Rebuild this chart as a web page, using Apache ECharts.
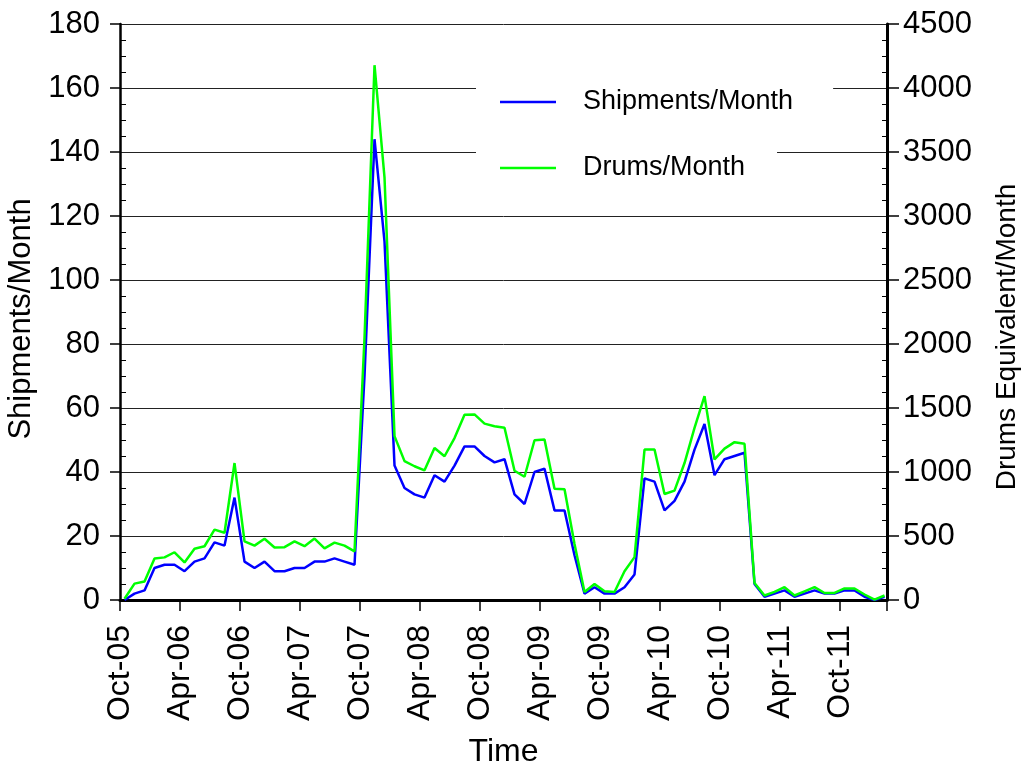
<!DOCTYPE html>
<html>
<head>
<meta charset="utf-8">
<script src="https://cdn.jsdelivr.net/npm/echarts@6/dist/echarts.min.js"></script>
<style>
html,body{margin:0;padding:0;background:#fff;}
#chart{width:1024px;height:764px;}
</style>
</head>
<body>
<div id="chart"></div>
<script>
// Monthly values starting Oct-05 (month index 0), sampled mid-month
const shipmentsPerMonth = [
  0, 2, 3, 10, 11, 11, 9, 12, 13, 18, 17, 32,
  12, 10, 12, 9, 9, 10, 10, 12, 12, 13, 12, 11,
  70, 144, 112, 42, 35, 33, 32, 39, 37, 42, 48, 48,
  45, 43, 44, 33, 30, 40, 41, 28, 28, 14, 2, 4,
  2, 2, 4, 8, 38, 37, 28, 31, 37, 47, 55, 39,
  44, 45, 46, 5, 1, 2, 3, 1, 2, 3, 2, 2,
  3, 3, 1, 0, 1
];
const drumsPerMonth = [
  10, 128, 145, 325, 333, 373, 293, 400, 420, 550, 525, 1070,
  458, 425, 478, 410, 413, 458, 420, 480, 403, 448, 425, 380,
  2050, 4178, 3300, 1280, 1085, 1045, 1013, 1188, 1123, 1265, 1448, 1450,
  1378, 1358, 1345, 1010, 963, 1248, 1253, 870, 865, 438, 63, 125,
  68, 63, 225, 335, 1175, 1175, 828, 855, 1070, 1345, 1593, 1098,
  1183, 1233, 1220, 133, 35, 63, 100, 35, 68, 100, 55, 55,
  90, 90, 43, 3, 35
];
const xTickLabels = ['Oct-05','Apr-06','Oct-06','Apr-07','Oct-07','Apr-08','Oct-08',
                     'Apr-09','Oct-09','Apr-10','Oct-10','Apr-11','Oct-11'];
const seriesNames = ['Shipments/Month', 'Drums/Month'];
const midMonth = 14 / 31;      // data dated the 15th of each month
const monthsShown = 76.7;      // Oct-05 .. late Feb-12

const FONT = '"Liberation Sans", Arial, Helvetica, sans-serif';

const chart = echarts.init(document.getElementById('chart'), null, {renderer: 'canvas'});

function legendFor(name, top, padRight) {
  return {
    data: [name],
    left: 476,
    top: top,
    orient: 'vertical',
    backgroundColor: '#ffffff',
    padding: [14, padRight, 14, 24],
    icon: 'rect',
    itemWidth: 56,
    itemHeight: 2.5,
    selectedMode: false,
    textStyle: {
      fontFamily: FONT, fontSize: 27, color: '#000',
      lineHeight: 30, padding: [0, 0, 0, 22]
    }
  };
}

const option = {
  animation: false,
  backgroundColor: '#ffffff',
  textStyle: {fontFamily: FONT},
  grid: {left: 120, right: 137, top: 24, bottom: 164, containLabel: false, outerBoundsMode: 'none'},
  legend: [
    legendFor(seriesNames[0], 73, 40),
    legendFor(seriesNames[1], 139, 32)
  ],
  xAxis: {
    type: 'value',
    min: 0,
    max: monthsShown,
    interval: 6,
    name: 'Time',
    nameLocation: 'middle',
    nameGap: 136,
    nameTextStyle: {fontFamily: FONT, fontSize: 32, color: '#000'},
    axisLine: {onZero: false, lineStyle: {color: '#000', width: 3}},
    axisTick: {show: true, length: 11, lineStyle: {color: '#000', width: 1.5}},
    splitLine: {show: false},
    axisLabel: {
      rotate: 90,
      margin: 25,
      fontFamily: FONT,
      fontSize: 32,
      color: '#000',
      showMaxLabel: true,
      formatter: function (v) {
        const k = Math.round(v / 6);
        if (Math.abs(v - k * 6) > 1e-6) return '';
        return xTickLabels[k] || '';
      }
    }
  },
  yAxis: [
    {
      type: 'value',
      position: 'left',
      min: 0, max: 180, interval: 20,
      name: 'Shipments/Month',
      nameLocation: 'middle',
      nameRotate: 90,
      nameGap: 78,
      nameTextStyle: {fontFamily: FONT, fontSize: 31, color: '#000', padding: [0, 14, 0, 0]},
      axisLine: {show: true, lineStyle: {color: '#000', width: 2.5}},
      axisTick: {show: true, length: 10, lineStyle: {color: '#000', width: 1.5}},
      minorTick: {show: true, splitNumber: 4, length: -6, lineStyle: {color: '#000', width: 1}},
      splitLine: {show: true, lineStyle: {color: '#222', width: 1}},
      axisLabel: {fontFamily: FONT, fontSize: 31, color: '#000', margin: 20,
                  formatter: function (v) { return String(v); }}
    },
    {
      type: 'value',
      position: 'right',
      min: 0, max: 4500, interval: 500,
      name: 'Drums Equivalent/Month',
      nameLocation: 'middle',
      nameRotate: 90,
      nameGap: 106,
      nameTextStyle: {fontFamily: FONT, fontSize: 28, color: '#000', padding: [0, 50, 0, 0]},
      axisLine: {show: true, lineStyle: {color: '#000', width: 3}},
      axisTick: {show: true, length: 12, lineStyle: {color: '#000', width: 1.5}},
      minorTick: {show: true, splitNumber: 4, length: -5, lineStyle: {color: '#000', width: 1}},
      splitLine: {show: false},
      axisLabel: {fontFamily: FONT, fontSize: 31, color: '#000', margin: 16,
                  formatter: function (v) { return String(v); }}
    }
  ],
  series: [
    {
      name: seriesNames[0],
      type: 'line',
      xAxisIndex: 0,
      yAxisIndex: 0,
      showSymbol: false,
      symbol: 'none',
      color: '#0000ff',
      lineStyle: {color: '#0000ff', width: 2.5},
      data: shipmentsPerMonth.map((v, i) => [i + midMonth, v])
    },
    {
      name: seriesNames[1],
      type: 'line',
      xAxisIndex: 0,
      yAxisIndex: 1,
      showSymbol: false,
      symbol: 'none',
      color: '#00ff00',
      lineStyle: {color: '#00ff00', width: 2.5},
      data: drumsPerMonth.map((v, i) => [i + midMonth, v])
    }
  ]
};

chart.setOption(option);
</script>
</body>
</html>
